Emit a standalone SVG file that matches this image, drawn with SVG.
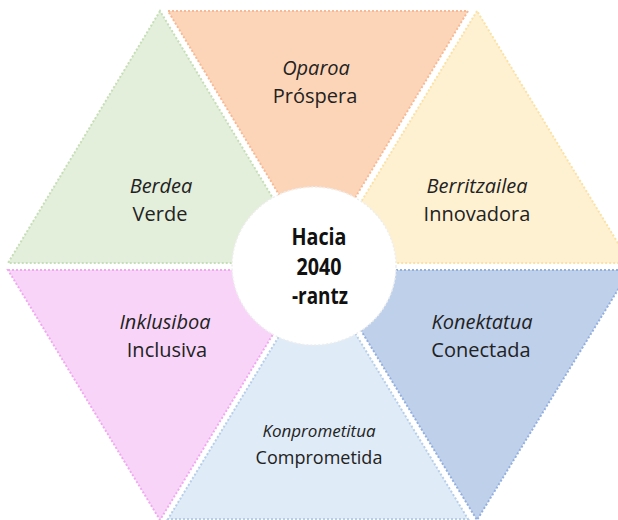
<svg xmlns="http://www.w3.org/2000/svg" width="618" height="520" viewBox="0 0 618 520">
  <style>
    .tri { stroke-width: 2; stroke-dasharray: 2 2; }
    .lbl { font-family: "Open Sans", "Noto Sans", "Liberation Sans", sans-serif; font-size: 20px; fill: #222; text-anchor: middle; }
    .it { font-style: italic; }
    .ctr { font-family: "Open Sans", "Noto Sans", "Liberation Sans", sans-serif; font-size: 23px; font-weight: bold; fill: #111; text-anchor: middle; }
  </style>
  <rect width="618" height="520" fill="#ffffff"/>
  <g id="oparoa">
    <polygon class="tri" points="168,11 468,11 318,259" fill="#FCD5B8" stroke="#F7B994"/>
    <text class="lbl it" x="316" y="75">Oparoa</text>
    <text class="lbl" x="315" y="103">Próspera</text>
  </g>
  <g id="berdea">
    <polygon class="tri" points="160,11 8,263 312,263" fill="#E3EEDB" stroke="#C6DEB6"/>
    <text class="lbl it" x="161" y="193">Berdea</text>
    <text class="lbl" x="160" y="221">Verde</text>
  </g>
  <g id="berritzailea">
    <polygon class="tri" points="477,11 324,263 630,263" fill="#FEF1D2" stroke="#FBE2A4"/>
    <text class="lbl it" x="477" y="193">Berritzailea</text>
    <text class="lbl" x="477" y="221">Innovadora</text>
  </g>
  <g id="inklusiboa">
    <polygon class="tri" points="8,270 312,270 160,520" fill="#F8D5F8" stroke="#F1A8F0"/>
    <text class="lbl it" x="165" y="329">Inklusiboa</text>
    <text class="lbl" x="167" y="357">Inclusiva</text>
  </g>
  <g id="konektatua">
    <polygon class="tri" points="324,270 630,270 477,520" fill="#BFD0EA" stroke="#93AFE0"/>
    <text class="lbl it" x="482" y="329">Konektatua</text>
    <text class="lbl" x="481" y="357">Conectada</text>
  </g>
  <g id="konprometitua">
    <polygon class="tri" points="318,272 168,519 468,519" fill="#DFEBF6" stroke="#B7CEEA"/>
    <text class="lbl it" x="319" y="437" style="font-size:17px">Konprometitua</text>
    <text class="lbl" x="319" y="464" style="font-size:18px">Comprometida</text>
  </g>
  <g id="center">
    <ellipse cx="314" cy="266" rx="82" ry="79" fill="#ffffff" stroke="#eeeeee" stroke-width="1.5" stroke-dasharray="2 2"/>
    <text class="ctr" x="319" y="245" textLength="55" lengthAdjust="spacingAndGlyphs">Hacia</text>
    <text class="ctr" x="319" y="275" textLength="45" lengthAdjust="spacingAndGlyphs">2040</text>
    <text class="ctr" x="320" y="304" textLength="56" lengthAdjust="spacingAndGlyphs">-rantz</text>
  </g>
  <g id="connectors"></g>
</svg>
